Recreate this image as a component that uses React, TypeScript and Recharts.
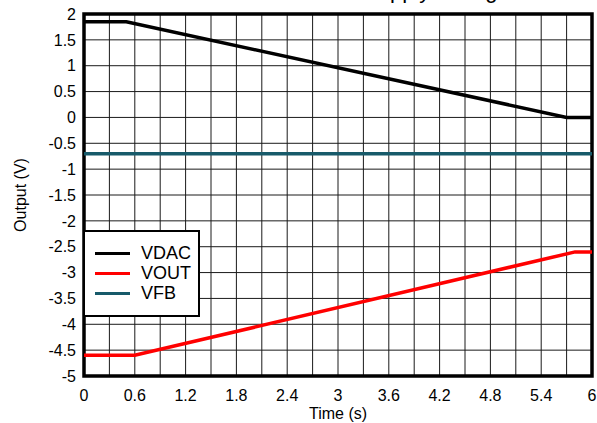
import React from 'react';
import { LineChart, Line, XAxis, YAxis, CartesianGrid, ReferenceArea } from 'recharts';

const vdacTime = [0, 0.5, 5.7, 6];
const vdacValue = [1.85, 1.85, 0, 0];
const voutTime = [0, 0.6, 5.8, 6];
const voutValue = [-4.6, -4.6, -2.6, -2.6];
const vfbTime = [0, 6];
const vfbValue = [-0.7, -0.7];

const xTicks = [0, 0.3, 0.6, 0.9, 1.2, 1.5, 1.8, 2.1, 2.4, 2.7, 3, 3.3, 3.6, 3.9, 4.2, 4.5, 4.8, 5.1, 5.4, 5.7, 6];
const yTicks = [-5, -4.5, -4, -3.5, -3, -2.5, -2, -1.5, -1, -0.5, 0, 0.5, 1, 1.5, 2];

const seriesNames = ['VDAC', 'VOUT', 'VFB'];
const seriesColors = ['#000000', '#ff0000', '#175a6a'];

const toRows = (t: number[], v: number[]) => t.map((x, i) => ({ t: x, v: v[i] }));
const vdacData = toRows(vdacTime, vdacValue);
const voutData = toRows(voutTime, voutValue);
const vfbData = toRows(vfbTime, vfbValue);

const FONT = '"Liberation Sans", Arial, Helvetica, sans-serif';

const LegendBox = () => (
  <div
    style={{
      position: 'absolute',
      left: 83,
      top: 230,
      width: 113,
      height: 83,
      border: '2px solid #000',
      background: '#fff',
      fontFamily: FONT,
      fontSize: 18,
      color: '#000',
    }}
  >
    {seriesNames.map((n, i) => (
      <div key={n} style={{ display: 'flex', alignItems: 'center', height: 20, marginTop: i === 0 ? 11 : 0 }}>
        <div style={{ width: 35, height: 3, background: seriesColors[i], marginLeft: 10, marginRight: 11 }} />
        <span style={{ lineHeight: '20px' }}>{n}</span>
      </div>
    ))}
  </div>
);

const YLabel = (props: any) => {
  const vb = props.viewBox || { x: 0, y: 0, width: 84, height: 362 };
  const cx = vb.x + 20;
  const cy = vb.y + vb.height / 2;
  return (
    <text
      x={cx}
      y={cy}
      transform={`rotate(-90 ${cx} ${cy})`}
      textAnchor="middle"
      dominantBaseline="central"
      fontSize={16}
      fontFamily={FONT}
      fill="#000"
    >
      Output (V)
    </text>
  );
};

export default function App() {
  return (
    <div style={{ position: 'absolute', left: 0, top: 0, width: 597, height: 423, background: '#fff' }}>
      <LineChart width={597} height={423} margin={{ top: 14, right: 5, bottom: 0, left: 0 }}>
        <CartesianGrid stroke="#1a1a1a" strokeWidth={1} />
        <XAxis
          dataKey="t"
          type="number"
          domain={[0, 6]}
          ticks={xTicks}
          interval={0}
          allowDuplicatedCategory={false}
          tickFormatter={(v: number, i: number) => (i % 2 === 0 ? String(v) : '')}
          tickLine={false}
          axisLine={false}
          height={47}
          tick={{ fontSize: 16, fontFamily: FONT, fill: '#000' }}
          tickMargin={8}
          label={{ value: 'Time (s)', position: 'insideBottom', offset: 4, fontSize: 16, fontFamily: FONT, fill: '#000' }}
        />
        <YAxis
          type="number"
          domain={[-5, 2]}
          ticks={yTicks}
          interval={0}
          tickLine={false}
          axisLine={false}
          width={84}
          tick={{ fontSize: 16, fontFamily: FONT, fill: '#000' }}
          label={<YLabel />}
        />
        <Line data={vdacData} dataKey="v" name="VDAC" stroke={seriesColors[0]} strokeWidth={3.5} dot={false} isAnimationActive={false} />
        <Line data={voutData} dataKey="v" name="VOUT" stroke={seriesColors[1]} strokeWidth={3.5} dot={false} isAnimationActive={false} />
        <Line data={vfbData} dataKey="v" name="VFB" stroke={seriesColors[2]} strokeWidth={3.5} dot={false} isAnimationActive={false} />
        <ReferenceArea x1={0} x2={6} y1={-5} y2={2} fill="none" stroke="#000" strokeWidth={3.5} ifOverflow="visible" />
      </LineChart>
      <svg width={597} height={20} style={{ position: 'absolute', left: 0, top: 0 }}>
        <text x={363} y={-2} fontSize={22} fontFamily={FONT} fill="#000">Supply Voltage</text>
      </svg>
      <LegendBox />
    </div>
  );
}
